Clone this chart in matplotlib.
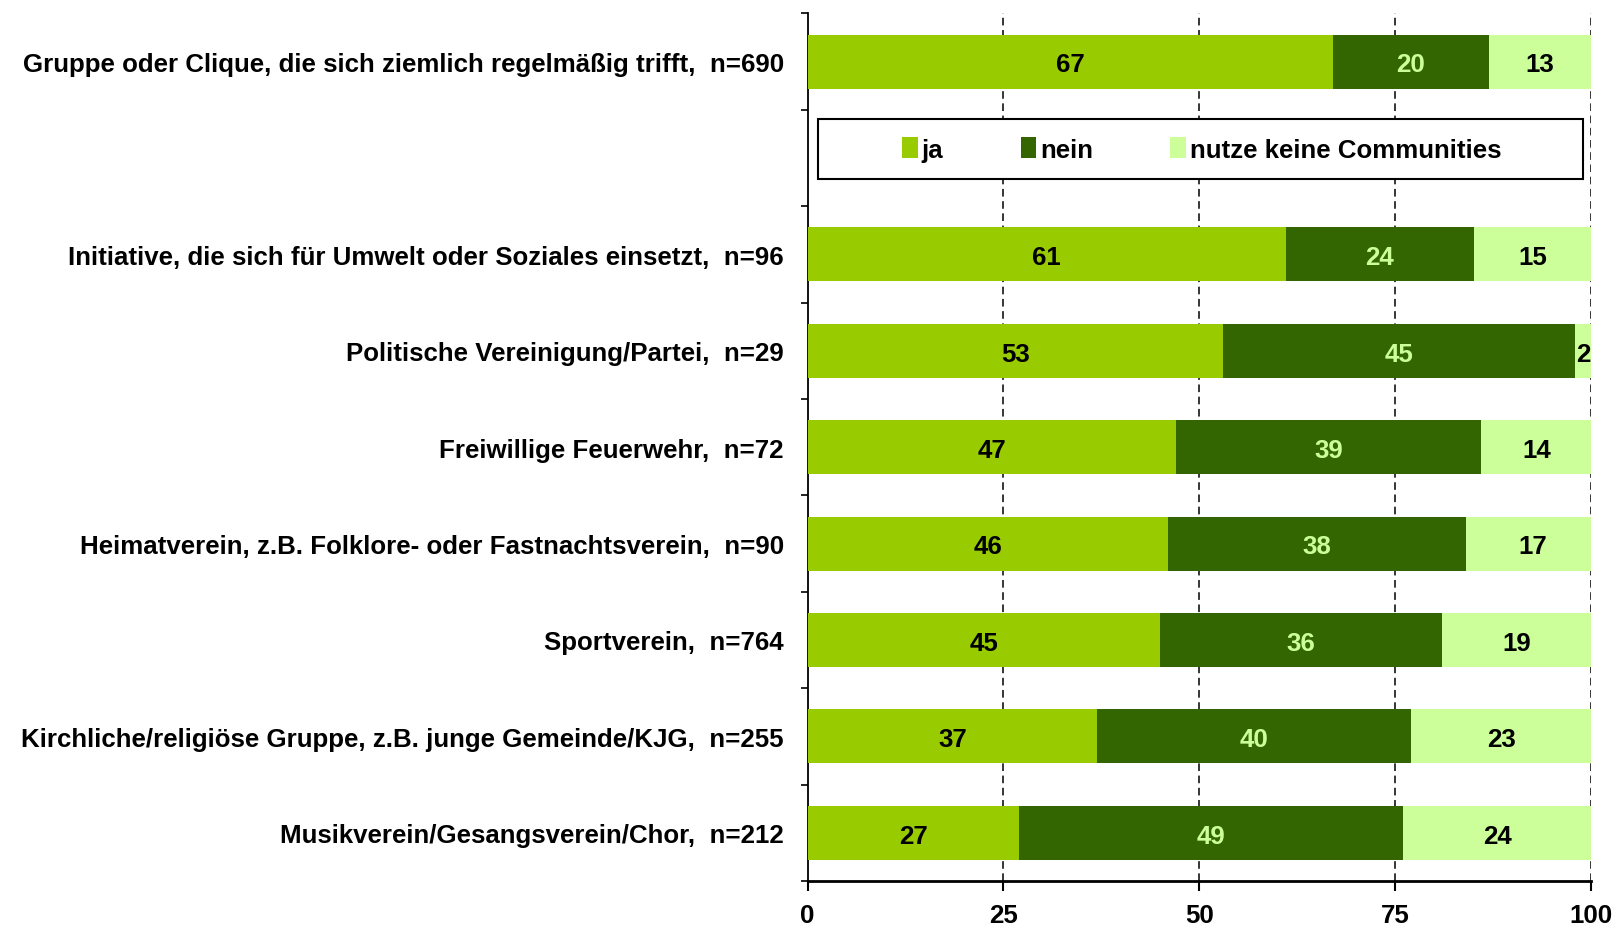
import matplotlib
matplotlib.use("Agg")
import matplotlib.pyplot as plt
from matplotlib.patches import Rectangle
import numpy as np

plt.rcParams['font.family'] = ['Liberation Sans', 'DejaVu Sans']
plt.rcParams['font.weight'] = 'bold'

categories = [
    "Gruppe oder Clique, die sich ziemlich regelmäßig trifft,  n=690",
    "",
    "Initiative, die sich für Umwelt oder Soziales einsetzt,  n=96",
    "Politische Vereinigung/Partei,  n=29",
    "Freiwillige Feuerwehr,  n=72",
    "Heimatverein, z.B. Folklore- oder Fastnachtsverein,  n=90",
    "Sportverein,  n=764",
    "Kirchliche/religiöse Gruppe, z.B. junge Gemeinde/KJG,  n=255",
    "Musikverein/Gesangsverein/Chor,  n=212",
]
ja = [67, None, 61, 53, 47, 46, 45, 37, 27]
nein = [20, None, 24, 45, 39, 38, 36, 40, 49]
keine = [13, None, 15, 2, 14, 17, 19, 23, 24]
series_names = ["ja", "nein", "nutze keine Communities"]
colors = ["#99CC00", "#336600", "#CCFF99"]
label_colors = ["black", "#CCFF99", "black"]
xticks = [0, 25, 50, 75, 100]

fig = plt.figure(figsize=(16.17, 9.29), dpi=100)
ax = fig.add_axes([0.4994, 0.0506, 0.4846, 0.9339])

fs = 18.6
y = np.arange(len(categories))
left = np.zeros(len(categories))
handles = []
for vals, name, col, lc in zip([ja, nein, keine], series_names, colors, label_colors):
    v = np.array([np.nan if a is None else a for a in vals], dtype=float)
    vv = np.nan_to_num(v)
    bars = ax.barh(y, vv, left=left, height=0.56, color=col, edgecolor='none',
                   label=name, zorder=3)
    handles.append(bars)
    for i, val in enumerate(v):
        if np.isnan(val):
            continue
        ax.text(left[i] + val / 2, y[i] + 0.03, f"{int(val)}", ha='center', va='center',
                color=lc, fontsize=fs, fontweight='bold', zorder=4)
    left = left + vv

ax.set_xlim(0, 100)
ax.set_ylim(len(categories) - 0.5, -0.5)
ax.set_yticks(y)
ax.set_yticklabels(categories, fontsize=fs, fontweight='bold')
ax.set_yticks(np.arange(-0.5, len(categories), 1.0), minor=True)
ax.tick_params(axis='y', which='major', length=0, pad=17)
ax.tick_params(axis='y', which='minor', length=5, width=1.2, direction='out')
ax.set_xticks(xticks)
ax.set_xticklabels([str(t) for t in xticks], fontsize=fs, fontweight='bold')
ax.tick_params(axis='x', length=7, width=1.5, pad=9, direction='out')

for t in xticks[1:]:
    ax.axvline(t, color='black', linestyle=(0, (5, 3)), linewidth=1.1, zorder=1)

for s in ['top', 'right']:
    ax.spines[s].set_visible(False)
ax.spines['left'].set_linewidth(1.3)
ax.spines['bottom'].set_linewidth(2)

# legend frame and legend
ax.add_patch(Rectangle((1.3, 1 - 0.09 - 0.31), 97.6, 0.62, transform=ax.transData,
                       facecolor='white', edgecolor='black', linewidth=1.5, zorder=5))
leg = ax.legend(handles=handles, labels=series_names, loc='center',
                bbox_to_anchor=(50.3, 0.91), bbox_transform=ax.transData,
                ncol=3, frameon=False, handlelength=0.6, handleheight=0.9,
                handletextpad=0.15, columnspacing=3.0, prop={'weight': 'bold', 'size': fs})
leg.set_zorder(6)

fig.savefig("out.png", dpi=100)
